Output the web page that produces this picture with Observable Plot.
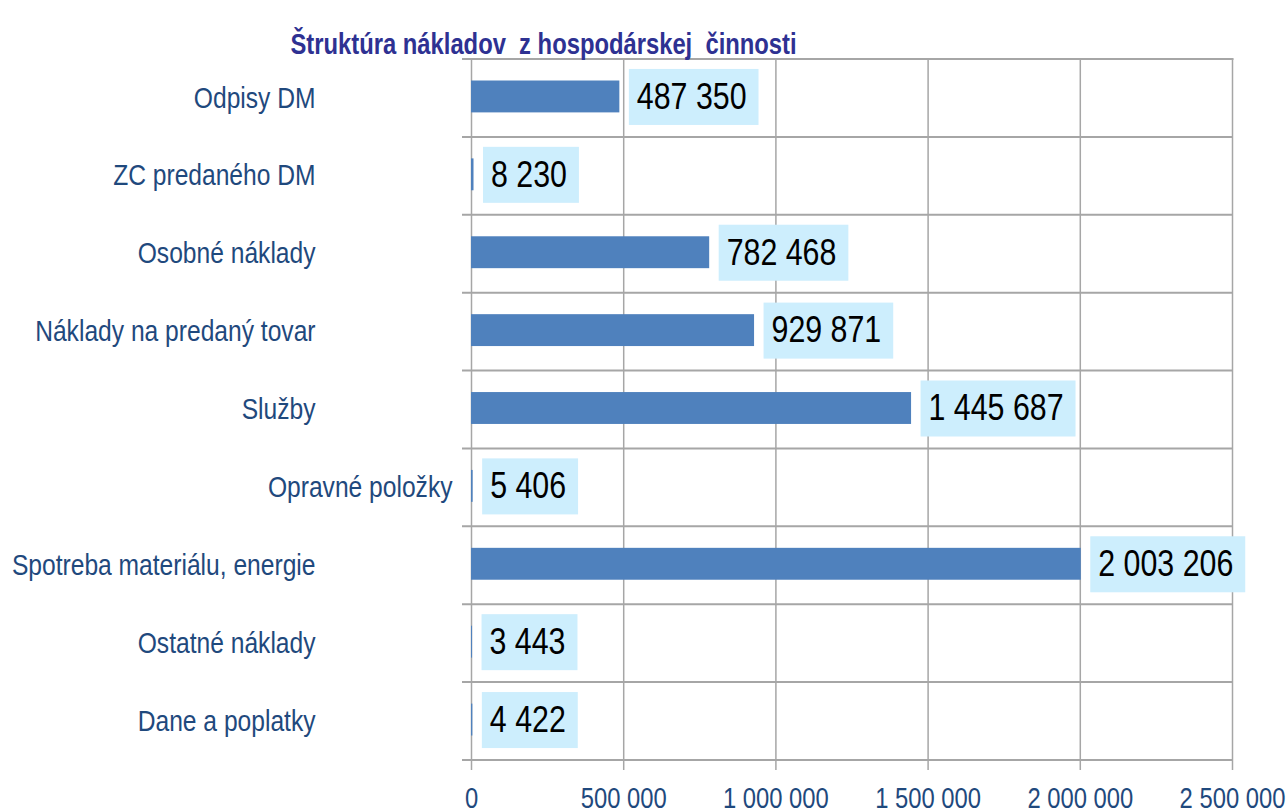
<!DOCTYPE html>
<html>
<head>
<meta charset="utf-8">
<script src="https://cdn.jsdelivr.net/npm/d3@7"></script>
<script src="https://cdn.jsdelivr.net/npm/@observablehq/plot@0.6"></script>
<style>
  html, body { margin: 0; padding: 0; background: #fff; }
  svg text { white-space: pre; }
</style>
</head>
<body>
<div id="chart"></div>
<script>
const title = "Štruktúra nákladov  z hospodárskej  činnosti";
const categories = [
  "Odpisy DM",
  "ZC predaného DM",
  "Osobné náklady",
  "Náklady na predaný tovar",
  "Služby",
  "Opravné položky",
  "Spotreba materiálu, energie",
  "Ostatné náklady",
  "Dane a poplatky"
];
const values = [487350, 8230, 782468, 929871, 1445687, 5406, 2003206, 3443, 4422];
const xTicks = [0, 500000, 1000000, 1500000, 2000000, 2500000];

const data = categories.map((c, i) => ({cat: c, value: values[i]}));
const fmt = d3.formatLocale({decimal: ",", thousands: " ", grouping: [3], currency: ["", ""]}).format(",d");

const FONT = "'Liberation Sans', Arial, sans-serif";
const NARROW = 0.82; // condense glyphs like Arial Narrow
const width = 1287, height = 809;
const marginTop = 58.5, marginBottom = 49.5, marginLeft = 471, marginRight = 55;
const step = (height - marginTop - marginBottom) / categories.length;

const labelFontSize = 37;
const labelDx = 17, labelDy = -1;
const measureCtx = document.createElement("canvas").getContext("2d");
measureCtx.font = `${labelFontSize}px ${FONT}`;

function boxedLabels(index, scales, vals, dims, context, next) {
  const g = next(index, scales, vals, dims, context);
  const first = g.firstChild;
  for (const i of index) {
    const w = measureCtx.measureText(fmt(data[i].value)).width * NARROW + 20;
    const r = document.createElementNS("http://www.w3.org/2000/svg", "rect");
    r.setAttribute("x", vals.x[i] + 9 - labelDx);
    r.setAttribute("y", vals.y[i] - 29 - labelDy);
    r.setAttribute("width", w);
    r.setAttribute("height", 56);
    r.setAttribute("fill", "#cdeefd");
    g.insertBefore(r, first);
  }
  return g;
}

const special = ["Opravné položky"];
const gridColor = "#a6a6a6";
const labelColor = "#1f497d";

const chart = Plot.plot({
  width, height, marginTop, marginBottom, marginLeft, marginRight,
  style: {fontFamily: FONT, background: "#fff", overflow: "visible"},
  x: {domain: [0, 2500000], axis: null},
  y: {domain: categories, padding: 0, round: false, axis: null},
  marks: [
    Plot.ruleX(xTicks, {x: d => d, stroke: gridColor, strokeWidth: 1.5, insetBottom: -10.5}),
    Plot.frame({anchor: "top", stroke: gridColor, strokeWidth: 2}),
    Plot.ruleY([categories[0]], {y: d => d, dy: -step / 2, stroke: gridColor, strokeWidth: 2, insetLeft: -9}),
    Plot.ruleY(categories, {y: d => d, dy: step / 2, stroke: gridColor, strokeWidth: 2, insetLeft: -9}),
    Plot.barX(data, {x: "value", y: "cat", fill: "#4f81bd", insetTop: 22, insetBottom: 24}),
    Plot.text(data, {
      x: "value", y: "cat", text: d => fmt(d.value),
      textAnchor: "start", dx: labelDx, dy: labelDy,
      fontSize: labelFontSize, fill: "#000",
      render: boxedLabels
    }),
    Plot.axisY(categories.filter(c => !special.includes(c)), {tickSize: 0, tickPadding: 156, fontSize: 30, color: labelColor, label: null}),
    Plot.axisY(special, {tickSize: 0, tickPadding: 19, fontSize: 30, color: labelColor, label: null}),
    Plot.axisX(xTicks, {tickSize: 0, tickPadding: 27, fontSize: 29, color: labelColor, tickFormat: fmt, label: null}),
    Plot.text([title], {
      frameAnchor: "top-left", textAnchor: "start", dx: -181, dy: -26,
      fontSize: 29, fontWeight: "bold", fill: "#2e3192", text: d => d
    })
  ]
});
document.getElementById("chart").appendChild(chart);
chart.querySelectorAll("text").forEach(t => {
  const L = t.getComputedTextLength();
  if (L > 0) {
    t.setAttribute("textLength", L * NARROW);
    t.setAttribute("lengthAdjust", "spacingAndGlyphs");
  }
});
</script>
</body>
</html>
